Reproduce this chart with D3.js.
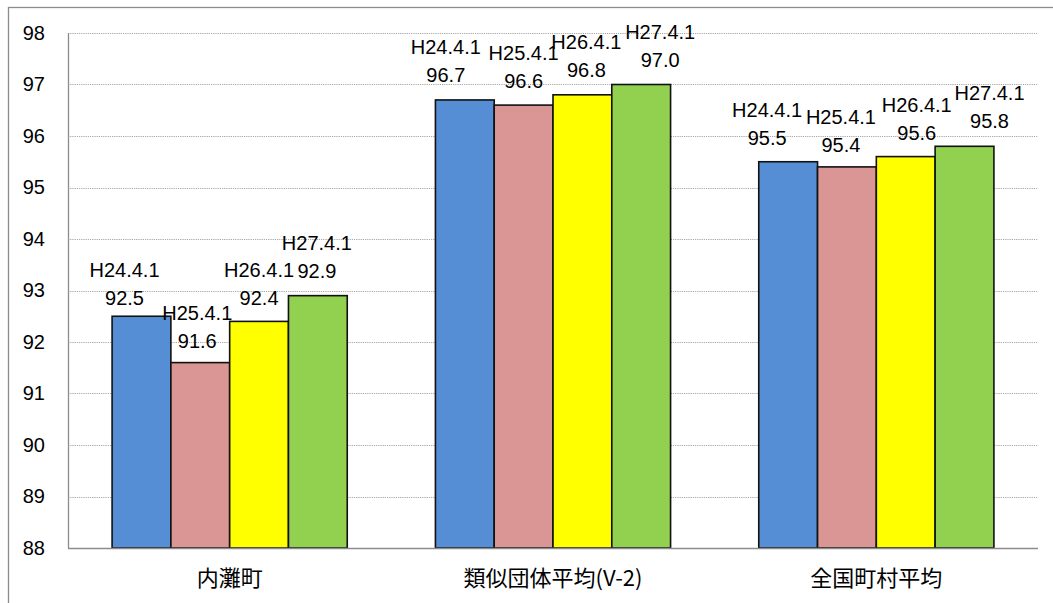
<!DOCTYPE html>
<html>
<head>
<meta charset="utf-8">
<script src="https://cdn.jsdelivr.net/npm/d3@7"></script>
<style>
  html, body { margin: 0; padding: 0; background: #fff; }
  svg { display: block; }
</style>
</head>
<body>
<script>
// Categories, series and values
const categories = ["内灘町", "類似団体平均(V-2)", "全国町村平均"];
const seriesNames = ["H24.4.1", "H25.4.1", "H26.4.1", "H27.4.1"];
const valuesH24 = [92.5, 96.7, 95.5];
const valuesH25 = [91.6, 96.6, 95.4];
const valuesH26 = [92.4, 96.8, 95.6];
const valuesH27 = [92.9, 97.0, 95.8];
const yTicks = [88, 89, 90, 91, 92, 93, 94, 95, 96, 97, 98];
const seriesColors = ["#558ED5", "#D99694", "#FFFF00", "#92D050"];

// Hand-placed label offsets (per category, per series): horizontal shift and gap above bar
const labelDx = [
  [-17, -3, 0, -1],
  [-19, 0, 4, 19],
  [-21, -6, 11, 25]
];
const labelGap = [
  [11, 15, 16, 18],
  [18, 17, 18, 18],
  [17, 15, 17, 18]
];

const seriesValues = [valuesH24, valuesH25, valuesH26, valuesH27];
const rows = [];
categories.forEach((c, ci) => {
  seriesNames.forEach((s, si) => {
    rows.push({ category: c, ci, series: s, si, value: seriesValues[si][ci] });
  });
});

const W = 1053, H = 603;
const plot = { left: 68, right: 1038, top: 33, bottom: 548 };

const svg = d3.select("body").append("svg")
  .attr("width", W).attr("height", H);

// Outer chart frame
svg.append("rect")
  .attr("x", 8.5).attr("y", 7.5)
  .attr("width", 1080).attr("height", 700)
  .attr("fill", "#fff")
  .attr("stroke", "#8c8c8c").attr("stroke-width", 1.3);

const y = d3.scaleLinear().domain([88, 98]).range([plot.bottom, plot.top]);
const x0 = d3.scaleBand().domain(categories).range([plot.left, plot.right])
  .paddingInner(0).paddingOuter(0);
const x1 = d3.scaleBand().domain(seriesNames).range([0, x0.bandwidth()])
  .paddingInner(0).paddingOuter(0.75);
const color = d3.scaleOrdinal().domain(seriesNames).range(seriesColors);

// Dotted gridlines
svg.append("g")
  .selectAll("line")
  .data(yTicks.filter(t => t > 88))
  .join("line")
  .attr("x1", plot.left).attr("x2", plot.right)
  .attr("y1", d => Math.round(y(d)) + 0.5).attr("y2", d => Math.round(y(d)) + 0.5)
  .attr("stroke", "#a6a6a6").attr("stroke-width", 1)
  .attr("stroke-dasharray", "1.2,1");

// Y axis labels
const yAxis = svg.append("g")
  .attr("transform", `translate(${plot.left},0)`)
  .call(d3.axisLeft(y).tickValues(yTicks).tickSize(0).tickPadding(23).tickFormat(d3.format("d")));
yAxis.select(".domain").remove();
yAxis.selectAll("text")
  .attr("font-family", "'Liberation Sans', Arial, sans-serif")
  .attr("font-size", 20).attr("fill", "#000");

// Bars
svg.append("g")
  .selectAll("rect")
  .data(rows)
  .join("rect")
  .attr("x", d => x0(d.category) + x1(d.series))
  .attr("y", d => y(d.value))
  .attr("width", x1.bandwidth())
  .attr("height", d => y(88) - y(d.value))
  .attr("fill", d => color(d.series))
  .attr("stroke", "#111").attr("stroke-width", 1.6);

// Axis lines
svg.append("line")
  .attr("x1", plot.left + 0.5).attr("x2", plot.left + 0.5)
  .attr("y1", plot.top).attr("y2", plot.bottom)
  .attr("stroke", "#8c8c8c").attr("stroke-width", 1.3);
svg.append("line")
  .attr("x1", plot.left).attr("x2", plot.right)
  .attr("y1", plot.bottom + 0.5).attr("y2", plot.bottom + 0.5)
  .attr("stroke", "#8c8c8c").attr("stroke-width", 1.5);

// Data labels: series name above value
const labels = svg.append("g")
  .attr("font-family", "'Liberation Sans', Arial, sans-serif")
  .attr("font-size", 20).attr("fill", "#000")
  .attr("text-anchor", "middle")
  .selectAll("text")
  .data(rows)
  .join("text")
  .attr("transform", d => {
    const cx = x0(d.category) + x1(d.series) + x1.bandwidth() / 2 + labelDx[d.ci][d.si];
    const by = y(d.value) - labelGap[d.ci][d.si];
    return `translate(${cx},${by})`;
  });
labels.append("tspan").attr("x", 0).attr("y", -28).text(d => d.series);
labels.append("tspan").attr("x", 0).attr("y", 0).text(d => d3.format(".1f")(d.value));

// Category labels
svg.append("g")
  .selectAll("text")
  .data(categories)
  .join("text")
  .attr("x", d => x0(d) + x0.bandwidth() / 2)
  .attr("y", 586)
  .attr("text-anchor", "middle")
  .attr("font-family", "'Noto Sans CJK JP', 'Noto Sans', sans-serif")
  .attr("font-size", 22).attr("fill", "#000")
  .text(d => d);
</script>
</body>
</html>
